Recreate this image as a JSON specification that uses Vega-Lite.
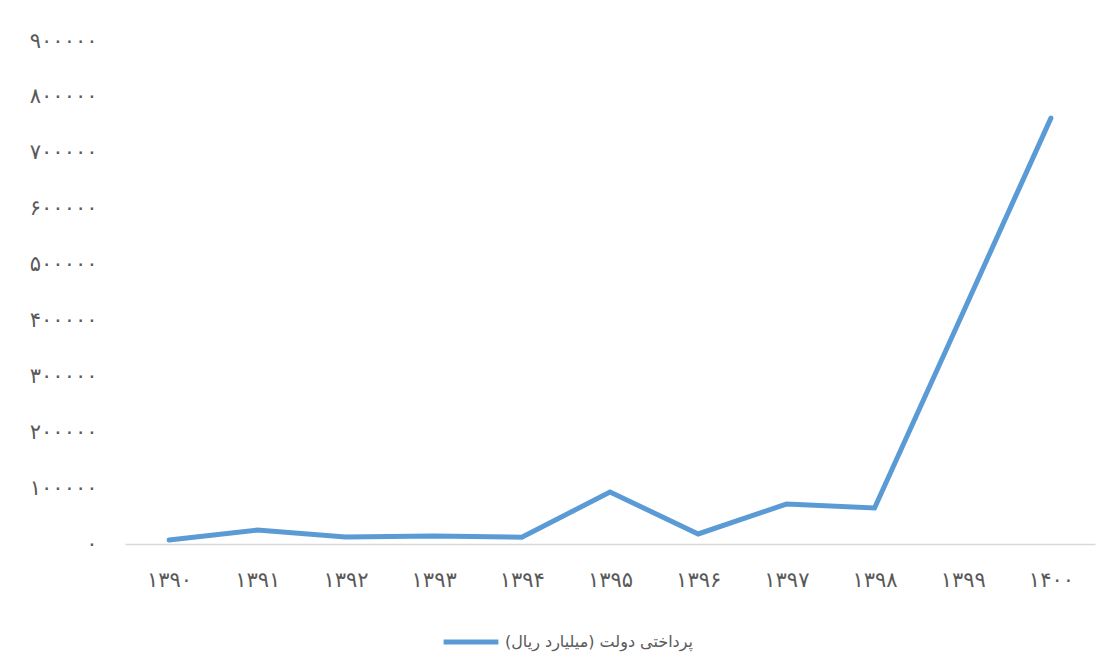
{
  "$schema": "https://vega.github.io/schema/vega-lite/v6.json",
  "width": 970,
  "height": 503,
  "padding": {"left": 29, "top": 30, "right": 5, "bottom": 5},
  "background": "white",
  "config": {
    "view": {"stroke": null},
    "font": "DejaVu Sans"
  },
  "data": {
    "values": [
      {"year": "۱۳۹۰", "value": 7000, "series": "پرداختی دولت (میلیارد ریال)‏"},
      {"year": "۱۳۹۱", "value": 25000, "series": "پرداختی دولت (میلیارد ریال)‏"},
      {"year": "۱۳۹۲", "value": 12500, "series": "پرداختی دولت (میلیارد ریال)‏"},
      {"year": "۱۳۹۳", "value": 14500, "series": "پرداختی دولت (میلیارد ریال)‏"},
      {"year": "۱۳۹۴", "value": 12000, "series": "پرداختی دولت (میلیارد ریال)‏"},
      {"year": "۱۳۹۵", "value": 93000, "series": "پرداختی دولت (میلیارد ریال)‏"},
      {"year": "۱۳۹۶", "value": 18000, "series": "پرداختی دولت (میلیارد ریال)‏"},
      {"year": "۱۳۹۷", "value": 71500, "series": "پرداختی دولت (میلیارد ریال)‏"},
      {"year": "۱۳۹۸", "value": 64500, "series": "پرداختی دولت (میلیارد ریال)‏"},
      {"year": "۱۳۹۹", "value": 413000, "series": "پرداختی دولت (میلیارد ریال)‏"},
      {"year": "۱۴۰۰", "value": 762000, "series": "پرداختی دولت (میلیارد ریال)‏"}
    ]
  },
  "mark": {"type": "line", "strokeWidth": 5, "strokeCap": "round", "strokeJoin": "miter"},
  "encoding": {
    "x": {
      "field": "year",
      "type": "ordinal",
      "scale": {"type": "point", "padding": 0.5},
      "axis": {
        "title": null,
        "labelAngle": 0,
        "labelFontSize": 21,
        "labelColor": "#595959",
        "labelPadding": 25,
        "ticks": false,
        "domainColor": "#d9d9d9",
        "domainWidth": 1.5,
        "grid": false
      }
    },
    "y": {
      "field": "value",
      "type": "quantitative",
      "scale": {"domain": [0, 900000], "nice": false},
      "axis": {
        "title": null,
        "values": [0, 100000, 200000, 300000, 400000, 500000, 600000, 700000, 800000, 900000],
        "labelExpr": "replace(replace(replace(replace(replace(replace(replace(replace(replace(replace(format(datum.value,'d'),regexp('0','g'),'۰'),regexp('1','g'),'۱'),regexp('2','g'),'۲'),regexp('3','g'),'۳'),regexp('4','g'),'۴'),regexp('5','g'),'۵'),regexp('6','g'),'۶'),regexp('7','g'),'۷'),regexp('8','g'),'۸'),regexp('9','g'),'۹')",
        "labelFontSize": 21,
        "labelColor": "#595959",
        "labelPadding": 28,
        "ticks": false,
        "domain": false,
        "grid": false
      }
    },
    "color": {
      "field": "series",
      "type": "nominal",
      "scale": {"range": ["#5B9BD5"]},
      "legend": {
        "title": null,
        "orient": "none",
        "legendX": 316,
        "legendY": 571,
        "symbolType": "stroke",
        "symbolSize": 3000,
        "symbolStrokeWidth": 5,
        "labelFontSize": 16,
        "labelColor": "#595959",
        "labelLimit": 400,
        "padding": 0
      }
    }
  }
}
